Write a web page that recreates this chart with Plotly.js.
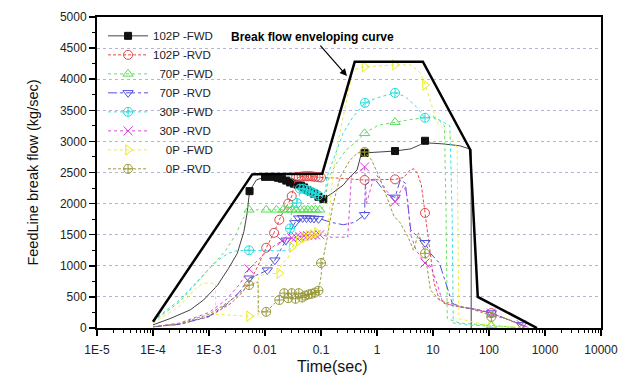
<!DOCTYPE html>
<html><head><meta charset="utf-8">
<script src="https://cdn.plot.ly/plotly-3.0.1.min.js"></script>
<style>body{margin:0;padding:0;background:#fff}</style>
</head><body>
<div id="chart" style="width:635px;height:379px"></div>
<script>
// ---------- data (time in s, flow in kg/s) ----------
const seriesNames = ["102P -FWD","102P -RVD","\u200770P -FWD","\u200770P -RVD","\u200730P -FWD","\u200730P -RVD","\u2007\u20070P -FWD","\u2007\u20070P -RVD"];

const t1 = [1e-4,2e-4,4.6e-4,8e-4,1.4e-3,2.2e-3,3.2e-3,4.2e-3,4.8e-3,5.3e-3,7e-3,0.01,0.015,0.02,0.03,0.042,0.06,0.08,0.11,0.16,0.25,0.33,0.44,0.53,0.6,1,2.1,4,6,7.2,7.8,8.2,15,30,44,48,48.1];
const v1 = [50,150,290,450,680,950,1200,1550,1850,2200,2380,2430,2430,2400,2330,2300,2200,2130,2075,2170,2300,2430,2540,2815,2815,2825,2845,2880,2950,3010,3040,2975,2960,2930,2880,2870,0];
const tm1 = [5.3e-3,0.01,0.0135,0.017,0.02,0.024,0.028,0.033,0.038,0.044,0.05,0.057,0.065,0.075,0.09,0.11,0.6,2.1,7.2];
const vm1 = [2200,2430,2430,2415,2400,2370,2340,2320,2305,2290,2260,2220,2190,2160,2110,2075,2815,2845,3010];

const t2 = [1e-4,3e-4,1e-3,2.5e-3,4e-3,5.5e-3,7.5e-3,0.0105,0.0145,0.018,0.022,0.026,0.03,0.034,0.04,0.06,0.1,0.2,0.6,1.2,2.1,3,3.9,4.6,5.3,6.2,7.2,8.3,9.3,10.5,13,20,30,50,110,200,380,500];
const v2 = [20,60,180,400,580,760,1000,1290,1530,1740,1900,2000,2120,2350,2430,2440,2420,2410,2380,2380,2390,2420,2540,2560,2480,2300,1850,1460,1045,720,450,370,340,300,240,150,60,10];
const tm2 = [0.0105,0.0145,0.018,0.026,0.03,0.036,0.04,0.045,0.05,0.055,0.06,0.066,0.072,0.08,0.09,0.1,0.6,2.1,7.2,110];
const vm2 = [1290,1530,1740,2000,2120,2430,2430,2435,2440,2440,2440,2440,2435,2430,2425,2420,2380,2390,1850,240];

const t3 = [1e-4,3e-4,1e-3,2e-3,3e-3,4e-3,5.2e-3,0.01,0.05,0.1,0.11,0.14,0.19,0.28,0.45,0.6,1.05,2.1,3.9,7.2,10,13,16,17,18,30,110,300];
const v3 = [100,420,950,1250,1500,1750,1900,1900,1900,1900,1950,2430,2650,2860,3020,3130,3260,3310,3350,3380,3380,3330,3250,2000,150,80,40,10];
const tm3 = [5.2e-3,0.0105,0.016,0.021,0.025,0.03,0.036,0.043,0.05,0.058,0.068,0.08,0.095,0.6,2.1,110];
const vm3 = [1900,1900,1900,1900,1900,1900,1900,1900,1900,1900,1900,1900,1900,3130,3310,40];

const t4 = [1e-4,3e-4,1e-3,2e-3,3.5e-3,5.2e-3,0.008,0.011,0.015,0.0237,0.034,0.045,0.07,0.1,0.15,0.25,0.4,0.6,0.62,0.9,1.5,2.1,2.6,3.2,4,5.5,7.2,9,13,17,22,30,60,110,200,380,500];
const v4 = [20,60,190,370,580,800,870,930,1090,1410,1690,1770,1760,1750,1700,1660,1700,1820,2300,2400,2150,2100,2380,2330,1580,1450,1370,1200,1045,720,400,340,300,240,150,50,10];
const tm4 = [5.2e-3,0.011,0.015,0.0237,0.034,0.04,0.047,0.055,0.065,0.075,0.09,0.6,2.1,7.2,110,380];
const vm4 = [800,930,1090,1410,1690,1765,1770,1768,1765,1762,1755,1820,2100,1370,240,50];

const t5 = [1e-4,3e-4,1e-3,1.5e-3,2.2e-3,3e-3,5.2e-3,0.01,0.02,0.028,0.03,0.037,0.045,0.06,0.08,0.1,0.12,0.128,0.18,0.247,0.37,0.61,1,2.1,3.2,5,7.2,10,14,20,22,23,40,110,300];
const v5 = [120,450,950,1100,1200,1240,1250,1250,1240,1260,2000,2010,2250,2220,2170,2100,2200,2430,2800,3130,3390,3620,3700,3780,3720,3560,3380,3400,3330,3250,1800,80,50,30,10];
const tm5 = [5.2e-3,0.028,0.037,0.042,0.048,0.055,0.062,0.07,0.08,0.09,0.61,2.1,7.2];
const vm5 = [1250,1600,2010,2240,2240,2220,2200,2180,2160,2130,3620,3780,3380];

const t6 = [1e-4,3e-4,1e-3,2e-3,3.5e-3,5.2e-3,0.01,0.015,0.02,0.03,0.05,0.1,0.15,0.3,0.35,0.45,0.6,0.65,0.8,1,1.5,2.1,3,3.5,4,5,7.2,9,12,15,30,60,110,200,380,500];
const v6 = [20,80,250,450,700,950,1200,1330,1400,1450,1480,1500,1460,1460,2450,2500,2590,2000,2300,2450,2200,2030,2300,2100,1500,1250,1045,1000,700,400,340,300,240,150,50,10];
const tm6 = [5.2e-3,0.02,0.03,0.036,0.042,0.05,0.058,0.068,0.08,0.095,0.6,2.1,7.2,110,380];
const vm6 = [950,1400,1450,1460,1470,1480,1485,1490,1495,1500,2590,2030,1045,240,50];

const t7 = [1e-4,3e-4,6e-4,7.8e-4,1.3e-3,1.31e-3,3e-3,5.2e-3,7.5e-3,7.6e-3,0.01,0.017,0.02,0.025,0.03,0.05,0.07,0.1,0.13,0.16,0.2,0.28,0.33,0.37,0.6,2.1,4,6,7.2,9,12,20,27,29,100,400];
const v7 = [80,350,650,720,720,220,200,190,200,820,870,880,1045,1100,1300,1450,1500,1550,1500,2400,2980,3600,3940,4150,4200,4230,4230,4100,3910,3650,3300,3100,2900,150,40,10];
const tm7 = [5.2e-3,0.018,0.03,0.04,0.05,0.06,0.07,0.085,0.6,2.1,7.2,110];
const vm7 = [190,880,1300,1400,1450,1480,1500,1530,4200,4230,3910,30];

const t8 = [1e-4,3e-4,1e-3,2.5e-3,5.2e-3,7.5e-3,7.6e-3,0.0105,0.015,0.02,0.03,0.05,0.07,0.09,0.1,0.105,0.13,0.16,0.22,0.33,0.45,0.6,0.8,1.1,2,2.6,3.6,4.5,5.5,7.2,9,13,20,50,110,200,400,500];
const v8 = [20,70,220,450,690,740,260,260,400,500,480,520,560,600,820,1045,1460,1950,2430,2700,2815,2830,2700,2430,1800,1690,1460,1250,1530,1200,610,450,400,300,200,150,50,10];
const tm8 = [5.2e-3,0.0105,0.018,0.022,0.026,0.03,0.035,0.04,0.046,0.052,0.06,0.068,0.078,0.09,0.1,0.6,7.2,110];
const vm8 = [690,260,450,560,480,560,470,560,490,520,540,550,570,600,1045,2830,1200,180];

// Break flow enveloping curve
const tEnv = [1e-4,5.9e-3,0.105,0.40,6.6,46,63,720];
const vEnv = [100,2470,2480,4280,4280,2870,500,0];

const xTickVals = [1e-5,1e-4,1e-3,1e-2,1e-1,1,10,100,1000,10000];
const xTickText = ["1E-5","1E-4","1E-3","0.01","0.1","1","10","100","1000","10000"];

// ---------- styles ----------
const styles = [
  {color:"#111111", line:"#444444", dash:"solid", sym:"square", mfill:true},
  {color:"#e04848", line:"#e04848", dash:"3px,2px", sym:"circle-open"},
  {color:"#55dd55", line:"#66dd66", dash:"dot", sym:"triangle-up-open"},
  {color:"#5050dd", line:"#5050dd", dash:"dashdot", sym:"triangle-down-open"},
  {color:"#22dddd", line:"#33dddd", dash:"dot", sym:"circle-cross-open"},
  {color:"#dd33dd", line:"#dd44dd", dash:"dot", sym:"x-thin-open"},
  {color:"#e8e822", line:"#eeee33", dash:"dot", sym:"triangle-right-open"},
  {color:"#99993a", line:"#99993a", dash:"3px,2px", sym:"circle-cross-open"}
];
const lineT = [t1,t2,t3,t4,t5,t6,t7,t8];
const lineV = [v1,v2,v3,v4,v5,v6,v7,v8];
const mkT = [tm1,tm2,tm3,tm4,tm5,tm6,tm7,tm8];
const mkV = [vm1,vm2,vm3,vm4,vm5,vm6,vm7,vm8];

const traces = [];
for (let i = 0; i < 8; i++) {
  const s = styles[i];
  const mk = {symbol:s.sym, size: s.mfill ? 7 : 9, color: s.color, line:{color:s.color, width:1}};
  traces.push({x:lineT[i], y:lineV[i], mode:"lines", line:{color:s.line, width:1, dash:s.dash}, showlegend:false, hoverinfo:"skip"});
  traces.push({x:mkT[i], y:mkV[i], mode:"markers", marker:mk, showlegend:false, hoverinfo:"skip"});
  traces.push({x:[null], y:[null], mode:"lines+markers", name:seriesNames[i], line:{color:s.line, width:1, dash:s.dash}, marker:mk});
}
traces.push({x:tEnv, y:vEnv, mode:"lines", line:{color:"#000", width:2.5}, showlegend:false, hoverinfo:"skip"});

const minorVals = [];
for (let e = -5; e < 4; e++) for (let k = 2; k <= 9; k++) minorVals.push(k * Math.pow(10, e));

const font = "Liberation Sans, Arial, sans-serif";
const layout = {
  width:635, height:379,
  margin:{l:97, r:34, t:17, b:51},
  paper_bgcolor:"#fff", plot_bgcolor:"#fff",
  font:{family:font, color:"#222", size:12},
  showlegend:true,
  legend:{x:0.012, y:0.986, xanchor:"left", yanchor:"top", bgcolor:"rgba(0,0,0,0)", borderwidth:0,
          font:{family:font, size:11.5, color:"#222"}, itemwidth:40, tracegroupgap:0},
  xaxis:{type:"log", range:[-5,4], tickmode:"array", tickvals:xTickVals, ticktext:xTickText,
         ticks:"outside", ticklen:6, tickwidth:1.5, tickcolor:"#000", ticklabelstandoff:4,
         minor:{tickmode:"array", tickvals:minorVals, ticks:"outside", ticklen:3, tickwidth:1, tickcolor:"#000", showgrid:false},
         showline:true, linecolor:"#000", linewidth:2, mirror:true, showgrid:false, zeroline:false,
         tickfont:{family:font, size:12, color:"#222"}},
  yaxis:{range:[0,5000], tickmode:"linear", tick0:0, dtick:500,
         ticks:"outside", ticklen:6, tickwidth:1.5, tickcolor:"#000",
         minor:{dtick:250, ticks:"outside", ticklen:3, tickwidth:1, tickcolor:"#000", showgrid:false},
         showline:true, linecolor:"#000", linewidth:2, mirror:true,
         showgrid:true, gridcolor:"#b4b4d4", gridwidth:1, griddash:"dot", zeroline:false,
         tickfont:{family:font, size:12, color:"#222"},
         title:{text:"FeedLine break flow (kg/sec)", font:{family:font, size:14.5, color:"#111"}, standoff:18}},
  annotations:[
    {xref:"paper", yref:"paper", x:(332-97)/504, y:-(366-328)/311, xanchor:"center", yanchor:"middle", showarrow:false,
     text:"Time(sec)", font:{family:font, size:16, color:"#111"}},
    {xref:"x", yref:"y", x:-0.536, y:4051, axref:"pixel", ayref:"pixel", ax:-34, ay:-39,
     text:"<b>Break flow enveloping curve</b>", font:{family:font, size:12, color:"#000"},
     showarrow:true, arrowhead:2, arrowsize:1.2, arrowwidth:1.2, arrowcolor:"#000"}
  ]
};
Plotly.newPlot("chart", traces, layout, {displayModeBar:false, staticPlot:true});
</script>
</body></html>
